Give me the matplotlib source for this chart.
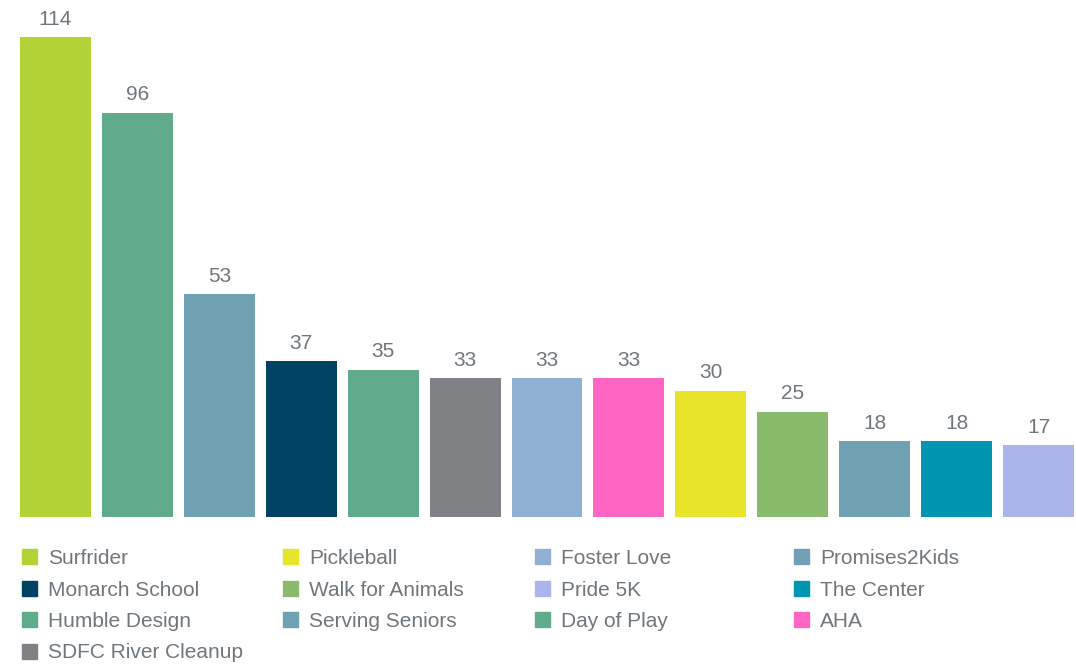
import matplotlib.pyplot as plt
from matplotlib.patches import Patch

# bar data, left to right
charities = ["Surfrider", "Humble Design", "Serving Seniors", "Monarch School",
             "Day of Play", "SDFC River Cleanup", "Foster Love", "AHA",
             "Pickleball", "Walk for Animals", "Promises2Kids", "The Center",
             "Pride 5K"]
volunteers = [114, 96, 53, 37, 35, 33, 33, 33, 30, 25, 18, 18, 17]
colors = ["#b2d235", "#5fab8c", "#70a1b2", "#004262", "#5fab8c", "#808184",
          "#8fafd3", "#ff66c4", "#e8e42a", "#8aba6b", "#70a1b2", "#0096b1",
          "#abb5eb"]

# legend layout, one list per column
legend_cols = [
    ["Surfrider", "Monarch School", "Humble Design", "SDFC River Cleanup"],
    ["Pickleball", "Walk for Animals", "Serving Seniors"],
    ["Foster Love", "Pride 5K", "Day of Play"],
    ["Promises2Kids", "The Center", "AHA"],
]

plt.rcParams['font.family'] = ['Liberation Sans', 'DejaVu Sans']
text_grey = "#6f767c"
W, H = 1076, 665

fig = plt.figure(figsize=(W / 100, H / 100), dpi=100)
ax = fig.add_axes([20 / W, (H - 517) / H, (1074 - 20) / W, (517 - 37) / H])

width = 0.866
x = list(range(len(charities)))
bars = ax.bar(x, volunteers, width=width, color=colors)
ax.bar_label(bars, padding=6, fontsize=15, color=text_grey)

ax.set_xlim(-width / 2, len(charities) - 1 + width / 2)
ax.set_ylim(0, max(volunteers))
ax.axis('off')

color_of = dict(zip(charities, colors))
col_x = [22, 283, 535, 794]
for cx, names in zip(col_x, legend_cols):
    handles = [Patch(color=color_of[n], label=n) for n in names]
    fig.legend(handles=handles, loc='upper left',
               bbox_to_anchor=(cx / W, 1 - 549 / H), frameon=False,
               fontsize=15, labelcolor=text_grey, borderpad=0,
               borderaxespad=0, handlelength=0.7, handleheight=0.7,
               handletextpad=0.55, labelspacing=0.6)

fig.savefig("out.png", dpi=100)
